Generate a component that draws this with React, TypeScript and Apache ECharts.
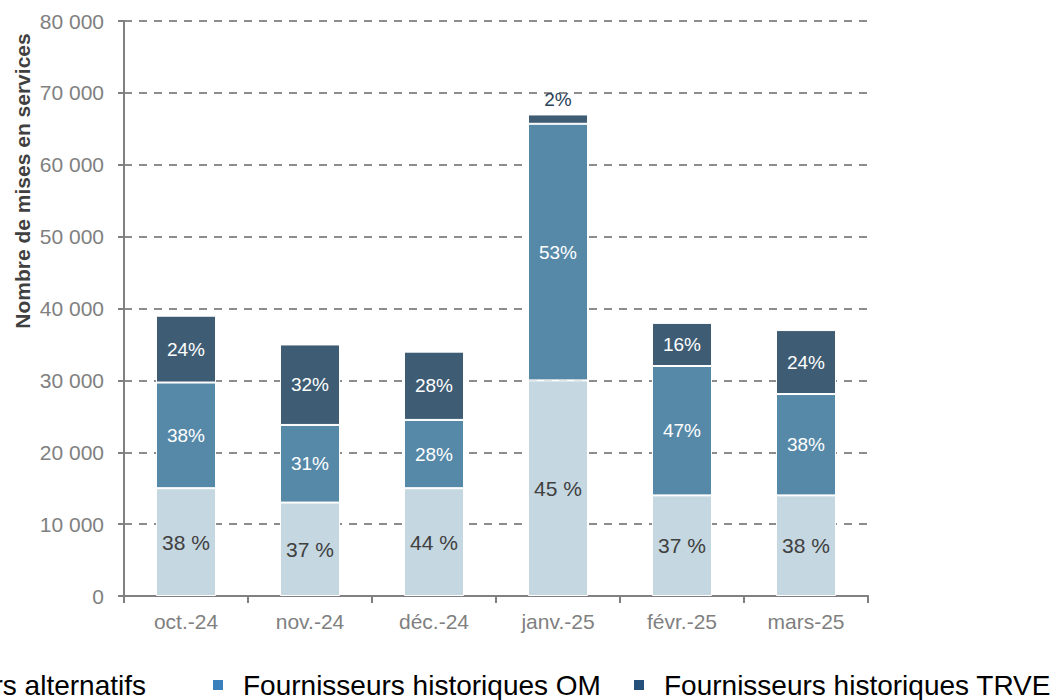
import React, { useEffect, useRef } from "react";
import * as echarts from "echarts";

const categories = ["oct.-24", "nov.-24", "déc.-24", "janv.-25", "févr.-25", "mars-25"];
const seriesNames = ["Fournisseurs alternatifs", "Fournisseurs historiques OM", "Fournisseurs historiques TRVE"];
const alternatifs = [15000, 13000, 15000, 30000, 14000, 14000];
const historiquesOM = [14700, 10800, 9500, 35700, 18000, 14100];
const historiquesTRVE = [9300, 11200, 9500, 1300, 6000, 8900];
const labelsAlt = ["38 %", "37 %", "44 %", "45 %", "37 %", "38 %"];
const labelsOM = ["38%", "31%", "28%", "53%", "47%", "38%"];
const labelsTRVE = ["24%", "32%", "28%", "2%", "16%", "24%"];
const labelOutsideTRVE = [false, false, false, true, false, false];
const yTicks = { min: 0, max: 80000, interval: 10000 };

const barColors = ["#c5d7e1", "#5689a8", "#3e5d74"];
const legendColors = ["#c5d7e1", "#3b7fbd", "#25507a"];
const legendLefts = [-177, 211, 632];
const FONT = "'Liberation Sans', Arial, sans-serif";

export default function App() {
  const ref = useRef<HTMLDivElement>(null);
  useEffect(() => {
    if (!ref.current) return;
    const chart = echarts.init(ref.current, undefined, { renderer: "svg" });
    const mk = (vals: number[], labels: string[], outside?: boolean[]) =>
      vals.map((v, i) => {
        const item: any = { value: v, labelText: labels[i] };
        if (outside && outside[i]) {
          item.label = { position: "top", distance: 5, color: "#2b4257" };
        }
        return item;
      });
    const common = {
      type: "bar",
      stack: "total",
      barWidth: 60,
      itemStyle: { borderColor: "#ffffff", borderWidth: 1 },
    };
    const legendBase = {
      top: 671,
      padding: 0,
      itemWidth: 12,
      itemHeight: 12,
      icon: "rect",
      width: 600,
      textStyle: { fontSize: 28, color: "#000000", fontFamily: FONT, padding: [0, 0, 0, 14] },
    };
    chart.setOption({
      animation: false,
      textStyle: { fontFamily: FONT },
      grid: { left: 124, right: 186, top: 21, bottom: 104, containLabel: false },
      legend: seriesNames.map((n, i) => ({
        ...legendBase,
        left: legendLefts[i],
        data: [{ name: n, itemStyle: { color: legendColors[i] } }],
      })),
      xAxis: {
        type: "category",
        data: categories,
        axisLine: { lineStyle: { color: "#808080", width: 2 } },
        axisTick: { show: true, length: 7, lineStyle: { color: "#808080", width: 2 } },
        axisLabel: { color: "#808080", fontSize: 21, margin: 15, fontFamily: FONT },
      },
      yAxis: {
        type: "value",
        min: yTicks.min,
        max: yTicks.max,
        interval: yTicks.interval,
        axisLine: { show: true, lineStyle: { color: "#808080", width: 2 } },
        axisTick: { show: true, length: 6, lineStyle: { color: "#808080", width: 2 } },
        axisLabel: {
          color: "#808080",
          fontSize: 21,
          margin: 20,
          fontFamily: FONT,
          formatter: (v: number) => String(v).replace(/\B(?=(\d{3})+(?!\d))/g, " "),
        },
        splitLine: { show: true, lineStyle: { color: "#8c8c8c", width: 2, type: [8, 7] } },
      },
      graphic: [
        {
          type: "text",
          x: 22,
          y: 181,
          rotation: Math.PI / 2,
          style: {
            text: "Nombre de mises en services",
            fontSize: 21,
            fontWeight: "bold",
            fontFamily: FONT,
            fill: "#404040",
            align: "center",
            verticalAlign: "middle",
          },
        },
      ],
      series: [
        {
          ...common,
          name: seriesNames[0],
          data: mk(alternatifs, labelsAlt),
          itemStyle: { ...common.itemStyle, color: barColors[0] },
          label: {
            show: true,
            position: "inside",
            color: "#404040",
            fontSize: 21,
            fontFamily: FONT,
            formatter: (p: any) => p.data.labelText,
          },
        },
        {
          ...common,
          name: seriesNames[1],
          data: mk(historiquesOM, labelsOM),
          itemStyle: { ...common.itemStyle, color: barColors[1] },
          label: {
            show: true,
            position: "inside",
            color: "#ffffff",
            fontSize: 19,
            fontFamily: FONT,
            formatter: (p: any) => p.data.labelText,
          },
        },
        {
          ...common,
          name: seriesNames[2],
          data: mk(historiquesTRVE, labelsTRVE, labelOutsideTRVE),
          itemStyle: { ...common.itemStyle, color: barColors[2] },
          label: {
            show: true,
            position: "inside",
            color: "#ffffff",
            fontSize: 19,
            fontFamily: FONT,
            formatter: (p: any) => p.data.labelText,
          },
        },
      ],
    });
    return () => chart.dispose();
  }, []);
  return (
    <div
      ref={ref}
      style={{ position: "absolute", left: 0, top: 0, width: 1054, height: 700 }}
    />
  );
}
